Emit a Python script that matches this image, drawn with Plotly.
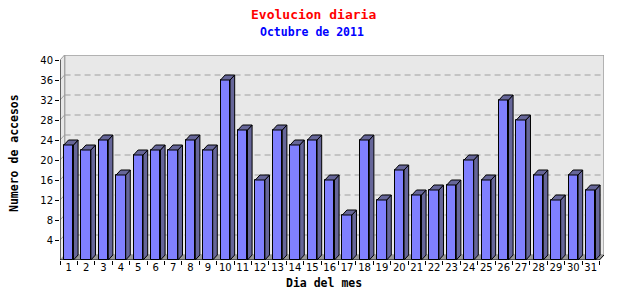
import plotly.graph_objects as go

# ---- data ----
days = list(range(1, 32))
day_labels = [str(d) for d in days]
accesses = [23, 22, 24, 17, 21, 22, 22, 24, 22, 36, 26, 16, 26, 23, 24, 16,
            9, 24, 12, 18, 13, 14, 15, 20, 16, 32, 28, 17, 12, 17, 14]
y_ticks = [4, 8, 12, 16, 20, 24, 28, 32, 36, 40]

title = "Evolucion diaria"
subtitle = "Octubre de 2011"
x_title = "Dia del mes"
y_title = "Numero de accesos"

# ---- geometry (3D look) ----
W, H = 640, 300
ml, mr, mt, mb = 60, 36, 55, 40
px_per_x = 17.4
dxu = 4.6 / px_per_x       # depth offset in x units
dyu = 1.0                  # depth offset in y units (5 px)
bw = 0.55                  # bar width
xmin, xmax = 0.5, 31.5
ymax = 40

front_col = "#8080FF"
side_col = "#666699"
wall_col = "#E8E8E8"
grid_col = "#A0A0A0"

fig = go.Figure()

# side and top faces of the bars
sx, sy, tx, ty = [], [], [], []
for d, v in zip(days, accesses):
    r = d + bw / 2
    l = d - bw / 2
    sx += [r, r + dxu, r + dxu, r, r, None]
    sy += [0, dyu, v + dyu, v, 0, None]
    tx += [l, l + dxu, r + dxu, r, l, None]
    ty += [v, v + dyu, v + dyu, v, v, None]

fig.add_trace(go.Scatter(x=sx, y=sy, mode="lines", fill="toself",
                         fillcolor=side_col, line=dict(color="black", width=1),
                         hoverinfo="skip", showlegend=False))
fig.add_trace(go.Scatter(x=tx, y=ty, mode="lines", fill="toself",
                         fillcolor=side_col, line=dict(color="black", width=1),
                         hoverinfo="skip", showlegend=False))
# front faces
fig.add_trace(go.Bar(x=days, y=accesses, width=bw,
                     marker=dict(color=front_col, line=dict(color="black", width=1)),
                     showlegend=False))

shapes = []
# back wall
shapes.append(dict(type="rect", xref="x", yref="y", layer="below",
                   x0=xmin + dxu, x1=xmax + dxu, y0=dyu, y1=ymax + dyu,
                   fillcolor=wall_col, line=dict(color=grid_col, width=1.5)))
# left side wall
shapes.append(dict(type="path", xref="x", yref="y", layer="below",
                   path=f"M {xmin},0 L {xmin},{ymax} L {xmin+dxu},{ymax+dyu} L {xmin+dxu},{dyu} Z",
                   fillcolor=wall_col, line=dict(color=grid_col, width=1)))
# floor
shapes.append(dict(type="path", xref="x", yref="y", layer="below",
                   path=f"M {xmin},0 L {xmax},0 L {xmax+dxu},{dyu} L {xmin+dxu},{dyu} Z",
                   fillcolor="#999999", line=dict(color="#999999", width=0)))
# gridlines on back wall + side wall diagonals
for v in y_ticks[:-1]:
    shapes.append(dict(type="line", xref="x", yref="y", layer="below",
                       x0=xmin + dxu, x1=xmax + dxu, y0=v + dyu, y1=v + dyu,
                       line=dict(color=grid_col, width=1, dash="6px,4px")))
    shapes.append(dict(type="line", xref="x", yref="y", layer="below",
                       x0=xmin, x1=xmin + dxu, y0=v, y1=v + dyu,
                       line=dict(color=grid_col, width=1)))
# axis lines
shapes.append(dict(type="line", xref="x", yref="y", x0=xmin, x1=xmin, y0=0, y1=ymax,
                   line=dict(color="black", width=1)))
shapes.append(dict(type="line", xref="x", yref="y", x0=xmin, x1=xmax, y0=0, y1=0,
                   line=dict(color="black", width=1)))
shapes.append(dict(type="line", xref="x", yref="y", x0=xmax, x1=xmax + dxu, y0=0, y1=dyu,
                   line=dict(color="black", width=1)))

def px_to_paper_x(px):
    return (px - ml) / (W - ml - mr)

def py_to_paper_y(py):
    return (H - mb - py) / (H - mt - mb)

mono = "DejaVu Sans Mono"
annotations = [
    dict(text=f"<b>{title}</b>", x=px_to_paper_x(313), y=py_to_paper_y(14),
         xref="paper", yref="paper", showarrow=False,
         font=dict(family=mono, size=13, color="red"), xanchor="center", yanchor="middle"),
    dict(text=f"<b>{subtitle}</b>", x=px_to_paper_x(312), y=py_to_paper_y(32),
         xref="paper", yref="paper", showarrow=False,
         font=dict(family=mono, size=11.5, color="blue"), xanchor="center", yanchor="middle"),
    dict(text=f"<b>{x_title}</b>", x=px_to_paper_x(324), y=py_to_paper_y(283),
         xref="paper", yref="paper", showarrow=False,
         font=dict(family=mono, size=11.5, color="black"), xanchor="center", yanchor="middle"),
    dict(text=f"<b>{y_title}</b>", x=px_to_paper_x(14), y=py_to_paper_y(153),
         xref="paper", yref="paper", showarrow=False, textangle=-90,
         font=dict(family=mono, size=11.5, color="black"), xanchor="center", yanchor="middle"),
]

fig.update_layout(
    width=W, height=H,
    margin=dict(l=ml, r=mr, t=mt, b=mb, pad=0),
    paper_bgcolor="white", plot_bgcolor="white",
    shapes=shapes, annotations=annotations,
    bargap=0, showlegend=False,
    xaxis=dict(range=[xmin, xmax + dxu], tickmode="array", tickvals=days,
               ticktext=day_labels, ticks="", ticklen=0,
               showgrid=False, zeroline=False,
               showline=False, tickfont=dict(family="DejaVu Sans", size=10, color="black"),
               minor=dict(ticks="outside", ticklen=4, tickcolor="black",
                          tickmode="linear", tick0=0.5, dtick=1, showgrid=False)),
    yaxis=dict(range=[0, ymax + dyu], tickmode="array", tickvals=y_ticks,
               ticks="outside", ticklen=4, tickcolor="black",
               showgrid=False, zeroline=False, showline=False,
               tickfont=dict(family="DejaVu Sans", size=10, color="black")),
)

fig.write_html("out.html")
